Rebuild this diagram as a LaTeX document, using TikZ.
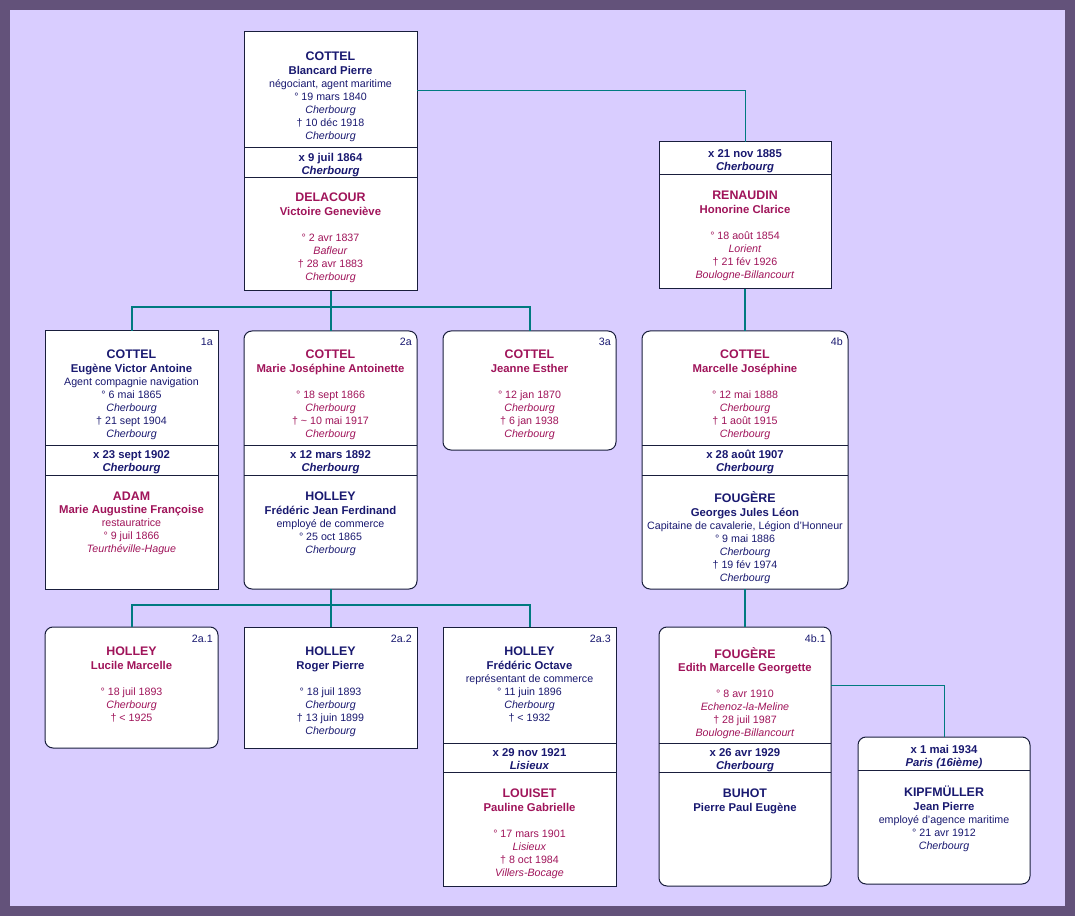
\documentclass[tikz,border=0pt]{standalone}
\usepackage{fontspec}
\setmainfont{Liberation Sans}
\usepackage{tikz}

\definecolor{frameink}{RGB}{99,82,122}
\definecolor{paperink}{RGB}{217,205,255}
\definecolor{blueink}{RGB}{25,25,112}
\definecolor{pinkink}{RGB}{160,20,90}
\definecolor{linkink}{RGB}{0,122,128}
\definecolor{boxink}{RGB}{25,30,60}

\newcommand\surname[1]{{\fontsize{9.3}{9.75}\selectfont\bfseries #1}}
\newcommand\given[1]{{\fontsize{8.5}{9.75}\selectfont\bfseries #1}}
\newcommand\lieu[1]{\textit{#1}}
\newcommand\wedlock[2]{\given{#1}\\ \given{\textit{#2}}}

\begin{document}
\begin{tikzpicture}[x=0.75pt, y=-0.75pt,
    box/.style 2 args={draw=boxink, fill=white, line width=0.75pt, inner sep=0pt, outer sep=0pt,
      anchor=north west, minimum width=#1*0.75pt, minimum height=#2*0.75pt},
    rbox/.style={rounded corners=6pt},
    txt/.style={align=center, anchor=north, inner sep=0pt, font=\fontsize{8}{9.75}\selectfont,
      execute at begin node=\rule{0pt}{9pt}},
    num/.style={anchor=base east, inner sep=0pt, text=blueink, font=\fontsize{8}{9.75}\selectfont},
    link/.style={draw=linkink, line width=1.5pt},
    spouse/.style={draw=linkink, line width=0.75pt}]
		\useasboundingbox (0,0) rectangle (1075,916);
		\fill[frameink] (0,0) rectangle (1075,916);
		\fill[paperink] (10,10) rectangle (1065,906);

		% boxes
		\node[box={173}{259}] (bA) at (244,32) {};
		\node[box={172}{147}] (bB) at (659,142) {};
		\node[box={173}{258}] (b1a) at (45,331) {};
		\node[box={173}{258}, rbox] (b2a) at (244,331) {};
		\node[box={173}{119}, rbox] (b3a) at (443,331) {};
		\node[box={206}{258}, rbox] (b4b) at (642,331) {};
		\node[box={173}{121}, rbox] (b2a1) at (45,627) {};
		\node[box={173}{121}] (b2a2) at (244,627) {};
		\node[box={173}{259}] (b2a3) at (443,627) {};
		\node[box={172}{259}, rbox] (b4b1) at (659,627) {};
		\node[box={172}{147}, rbox] (bK) at (858,737) {};

		% connectors
		\draw[spouse] (bA.north east) ++(0,59) -| (bB.north);
		\draw[link] (bA.south) -- ++(0,16) -| (b1a.north);
		\draw[link] (bA.south) -- ++(0,16) -| (b3a.north);
		\draw[link] (bA.south) -- (b2a.north);
		\draw[link] (bB.south) -- (b4b.north);
		\draw[link] (b2a.south) -- ++(0,16) -| (b2a1.north);
		\draw[link] (b2a.south) -- ++(0,16) -| (b2a3.north);
		\draw[link] (b2a.south) -- (b2a2.north);
		\draw[link] (b4b.south) -- (b4b1.north);
		\draw[spouse] (b4b1.north east) ++(0,58) -| (bK.north);

		% dividers
		\foreach \b/\y in {bA/148, bA/178, bB/175, b1a/445, b1a/475, b2a/445, b2a/475,
		  b4b/445, b4b/475, b2a3/743, b2a3/772, b4b1/743, b4b1/772, bK/770}
		  \draw[boxink, line width=0.75pt] (\b.west |- 0,\y) -- (\b.east |- 0,\y);

		% top couple
		\node[txt, text=blueink] (pA) at (330.5,52) {\surname{COTTEL}\\[0.5pt] \given{Blancard Pierre}\\ négociant, agent maritime\\ ° 19 mars 1840\\ \lieu{Cherbourg}\\ † 10 déc 1918\\ \lieu{Cherbourg}};
		\node[txt, text=blueink] (mA) at (330.5,153) {\wedlock{x 9 juil 1864}{Cherbourg}};
		\node[txt, text=pinkink] (sA) at (330.5,193) {\surname{DELACOUR}\\[0.5pt] \given{Victoire Geneviève}\\[9.75pt] ° 2 avr 1837\\ \lieu{Bafleur}\\ † 28 avr 1883\\ \lieu{Cherbourg}};

		\node[txt, text=blueink] (mB) at (745,149.5) {\wedlock{x 21 nov 1885}{Cherbourg}};
		\node[txt, text=pinkink] (sB) at (745,191) {\surname{RENAUDIN}\\[0.5pt] \given{Honorine Clarice}\\[9.75pt] ° 18 août 1854\\ \lieu{Lorient}\\ † 21 fév 1926\\ \lieu{Boulogne-Billancourt}};

		% children
		\node[num] (n1a) at (213,346) {1a};
		\node[txt, text=blueink] (p1a) at (131.5,350) {\surname{COTTEL}\\[0.5pt] \given{Eugène Victor Antoine}\\ Agent compagnie navigation\\ ° 6 mai 1865\\ \lieu{Cherbourg}\\ † 21 sept 1904\\ \lieu{Cherbourg}};
		\node[txt, text=blueink] (m1a) at (131.5,450) {\wedlock{x 23 sept 1902}{Cherbourg}};
		\node[txt, text=pinkink] (s1a) at (131.5,491.5) {\surname{ADAM}\\[0.5pt] \given{Marie Augustine Françoise}\\ restauratrice\\ ° 9 juil 1866\\ \lieu{Teurthéville-Hague}};

		\node[num] (n2a) at (412,346) {2a};
		\node[txt, text=pinkink] (p2a) at (330.5,350) {\surname{COTTEL}\\[0.5pt] \given{Marie Joséphine Antoinette}\\[9.75pt] ° 18 sept 1866\\ \lieu{Cherbourg}\\ † \textasciitilde{} 10 mai 1917\\ \lieu{Cherbourg}};
		\node[txt, text=blueink] (m2a) at (330.5,450) {\wedlock{x 12 mars 1892}{Cherbourg}};
		\node[txt, text=blueink] (s2a) at (330.5,491.5) {\surname{HOLLEY}\\[0.5pt] \given{Frédéric Jean Ferdinand}\\ employé de commerce\\ ° 25 oct 1865\\ \lieu{Cherbourg}};

		\node[num] (n3a) at (611,346) {3a};
		\node[txt, text=pinkink] (p3a) at (529.5,350) {\surname{COTTEL}\\[0.5pt] \given{Jeanne Esther}\\[9.75pt] ° 12 jan 1870\\ \lieu{Cherbourg}\\ † 6 jan 1938\\ \lieu{Cherbourg}};

		\node[num] (n4b) at (843,346) {4b};
		\node[txt, text=pinkink] (p4b) at (745,350) {\surname{COTTEL}\\[0.5pt] \given{Marcelle Joséphine}\\[9.75pt] ° 12 mai 1888\\ \lieu{Cherbourg}\\ † 1 août 1915\\ \lieu{Cherbourg}};
		\node[txt, text=blueink] (m4b) at (745,450) {\wedlock{x 28 août 1907}{Cherbourg}};
		\node[txt, text=blueink] (s4b) at (745,491.5) {\surname{FOUGÈRE}\\[0.5pt] \given{Georges Jules Léon}\\ Capitaine de cavalerie, Légion d'Honneur\\ ° 9 mai 1886\\ \lieu{Cherbourg}\\ † 19 fév 1974\\ \lieu{Cherbourg}};

		% grandchildren
		\node[num] (n2a1) at (213,642) {2a.1};
		\node[txt, text=pinkink] (p2a1) at (131.5,647) {\surname{HOLLEY}\\[0.5pt] \given{Lucile Marcelle}\\[9.75pt] ° 18 juil 1893\\ \lieu{Cherbourg}\\ † < 1925};

		\node[num] (n2a2) at (412,642) {2a.2};
		\node[txt, text=blueink] (p2a2) at (330.5,647) {\surname{HOLLEY}\\[0.5pt] \given{Roger Pierre}\\[9.75pt] ° 18 juil 1893\\ \lieu{Cherbourg}\\ † 13 juin 1899\\ \lieu{Cherbourg}};

		\node[num] (n2a3) at (611,642) {2a.3};
		\node[txt, text=blueink] (p2a3) at (529.5,647) {\surname{HOLLEY}\\[0.5pt] \given{Frédéric Octave}\\ représentant de commerce\\ ° 11 juin 1896\\ \lieu{Cherbourg}\\ † < 1932};
		\node[txt, text=blueink] (m2a3) at (529.5,748) {\wedlock{x 29 nov 1921}{Lisieux}};
		\node[txt, text=pinkink] (s2a3) at (529.5,788.5) {\surname{LOUISET}\\[0.5pt] \given{Pauline Gabrielle}\\[9.75pt] ° 17 mars 1901\\ \lieu{Lisieux}\\ † 8 oct 1984\\ \lieu{Villers-Bocage}};

		\node[num] (n4b1) at (826,642) {4b.1};
		\node[txt, text=pinkink] (p4b1) at (745,647) {\surname{FOUGÈRE}\\[0.5pt] \given{Edith Marcelle Georgette}\\[9.75pt] ° 8 avr 1910\\ \lieu{Echenoz-la-Meline}\\ † 28 juil 1987\\ \lieu{Boulogne-Billancourt}};
		\node[txt, text=blueink] (m4b1) at (745,748) {\wedlock{x 26 avr 1929}{Cherbourg}};
		\node[txt, text=blueink] (s4b1) at (745,788.5) {\surname{BUHOT}\\[0.5pt] \given{Pierre Paul Eugène}};

		\node[txt, text=blueink] (mK) at (944,745) {\wedlock{x 1 mai 1934}{Paris (16ième)}};
		\node[txt, text=blueink] (sK) at (944,786) {\surname{KIPFMÜLLER}\\[0.5pt] \given{Jean Pierre}\\ employé d'agence maritime\\ ° 21 avr 1912\\ \lieu{Cherbourg}};
	\end{tikzpicture}
\end{document}
